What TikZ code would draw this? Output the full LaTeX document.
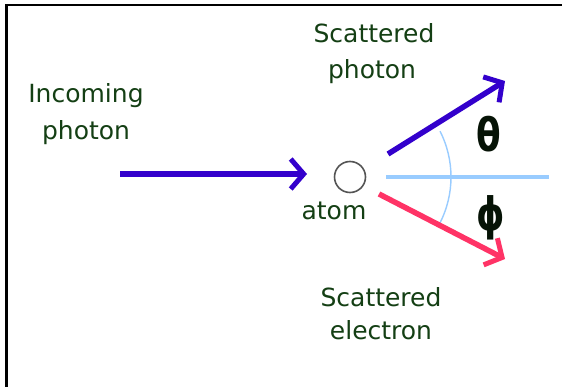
\documentclass[tikz,border=0pt]{standalone}
\usepackage{fontspec}
\setmainfont{DejaVu Sans}
\usetikzlibrary{arrows.meta}
\definecolor{txtgreen}{HTML}{143F14}
\definecolor{photonblue}{HTML}{3300CC}
\definecolor{elecred}{HTML}{FF3366}
\definecolor{refblue}{HTML}{99CCFF}
\definecolor{atomgray}{HTML}{555555}
\tikzset{
  lbl/.style={text=txtgreen, font=\fontsize{25}{29}\selectfont, inner sep=0pt, align=center},
  greek/.style={text=black!70!txtgreen, font=\fontsize{46}{46}\selectfont\bfseries, inner sep=0pt, xscale=0.78, transform shape},
  beam/.style={line width=5.5pt, -{Straight Barb[length=13pt,width=30pt,line width=5pt]}},
}
\begin{document}
\begin{tikzpicture}[x=1pt,y=-1pt]
\useasboundingbox (0,0) rectangle (562,387);
\fill[white] (0,0) rectangle (562,387);
% frame
\draw[line width=2.2pt] (6.5,390) -- (6.5,5) -- (565,5);
% labels
\node[lbl] (sp1) at (374,33) {Scattered};
\node[lbl] (sp2) at (372,72) {photon};
\node[lbl] (in1) at (86,96) {Incoming};
\node[lbl] (in2) at (86,133) {photon};
\node[lbl] (atomlbl) at (334,211) {atom};
\node[lbl] (se1) at (381,297) {Scattered};
\node[lbl] (se2) at (381,330) {electron};
% atom
\node[draw=atomgray, line width=1.6pt, circle, minimum size=31pt, inner sep=0pt] (atom) at (350,177) {};
% reference line and arc
\coordinate (refS) at (386,177);
\coordinate (refE) at (549,177);
\draw[refblue, line width=4pt] (refS) -- (refE);
\draw[refblue, line width=1.4pt] (atom.center) ++(-27:101) arc[start angle=-27, end angle=27, radius=101];
% incoming photon
\coordinate (inS) at (120,174);
\coordinate (inE) at (307,174);
\draw[photonblue, beam] (inS) -- (inE);
% scattered photon
\coordinate (spS) at (388,154);
\coordinate (spE) at (505,81);
\draw[photonblue, beam] (spS) -- (spE);
% scattered electron
\coordinate (seS) at (379,194);
\coordinate (seE) at (505,259);
\draw[elecred, beam] (seS) -- (seE);
% angles
\node[greek] (theta) at (489,134) {θ};
\node[greek] (phi) at (491,218) {ϕ};
\end{tikzpicture}
\end{document}
